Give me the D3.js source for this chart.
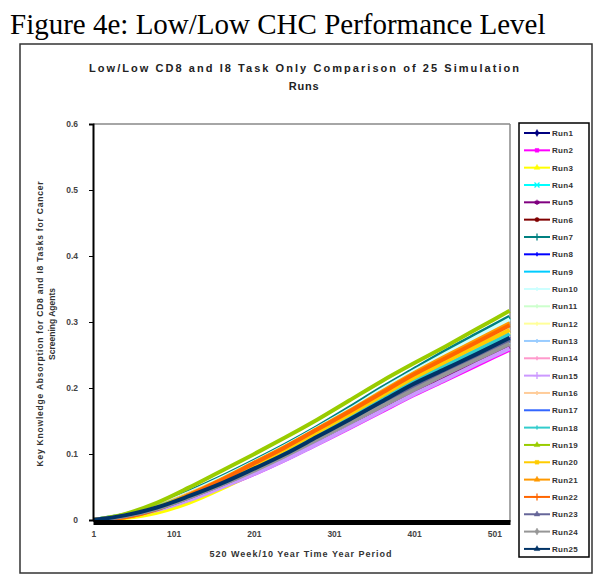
<!DOCTYPE html>
<html><head><meta charset="utf-8">
<script src="https://cdn.jsdelivr.net/npm/d3@7"></script>
<style>body{margin:0;background:#fff}svg{display:block}</style>
</head><body>
<script>
const weeks = [1,40,80,120,160,200,240,280,320,360,400,440,480,520];
const run1  = [0,.007,.019,.036,.056,.078,.101,.127,.153,.181,.208,.232,.255,.279];
const run2  = [0,.005,.015,.030,.049,.069,.091,.115,.139,.164,.189,.212,.235,.258];
const run3  = [0,.003,.011,.026,.047,.071,.097,.125,.154,.183,.211,.236,.260,.285];
const run4  = [0,.008,.022,.042,.064,.088,.113,.140,.168,.198,.227,.254,.280,.306];
const run5  = [0,.005,.016,.031,.050,.070,.092,.116,.141,.166,.191,.215,.239,.262];
const run6  = [0,.007,.019,.036,.055,.076,.099,.124,.150,.176,.202,.227,.250,.274];
const run7  = [0,.008,.023,.043,.065,.089,.114,.141,.170,.200,.228,.256,.282,.308];
const run8  = [0,.006,.018,.035,.055,.077,.100,.126,.152,.179,.205,.230,.253,.277];
const run9  = [0,.006,.018,.035,.054,.076,.099,.125,.151,.177,.204,.228,.252,.275];
const run10 = [0,.008,.022,.041,.063,.087,.112,.139,.167,.197,.225,.252,.278,.304];
const run11 = [0,.007,.020,.038,.058,.080,.104,.130,.157,.184,.211,.236,.259,.283];
const run12 = [0,.007,.020,.038,.059,.081,.105,.131,.158,.185,.212,.237,.261,.285];
const run13 = [0,.006,.017,.034,.053,.074,.097,.122,.147,.173,.199,.223,.246,.270];
const run14 = [0,.007,.020,.038,.059,.082,.106,.131,.157,.182,.208,.232,.256,.280];
const run15 = [0,.005,.015,.030,.049,.069,.091,.115,.140,.165,.190,.213,.237,.260];
const run16 = [0,.007,.021,.040,.061,.084,.108,.134,.161,.189,.216,.241,.266,.290];
const run17 = [0,.006,.018,.035,.055,.077,.100,.126,.152,.178,.205,.229,.253,.276];
const run18 = [0,.007,.020,.038,.058,.080,.104,.130,.156,.183,.210,.234,.258,.282];
const run19 = [0,.009,.026,.049,.074,.099,.125,.152,.181,.210,.237,.263,.290,.317];
const run20 = [0,.006,.019,.038,.060,.083,.107,.133,.160,.188,.215,.240,.264,.288];
const run21 = [0,.004,.017,.038,.061,.086,.111,.138,.165,.194,.222,.248,.273,.298];
const run22 = [0,.004,.016,.037,.060,.085,.110,.137,.164,.192,.220,.245,.270,.295];
const run23 = [0,.006,.017,.034,.053,.075,.098,.123,.149,.175,.201,.225,.248,.272];
const run24 = [0,.006,.017,.034,.053,.074,.097,.122,.147,.172,.197,.221,.244,.267];
const run25 = [0,.007,.019,.036,.055,.077,.100,.126,.152,.179,.206,.229,.252,.276];
const runNames = ["Run1","Run2","Run3","Run4","Run5","Run6","Run7","Run8","Run9","Run10","Run11","Run12","Run13","Run14","Run15","Run16","Run17","Run18","Run19","Run20","Run21","Run22","Run23","Run24","Run25"];
const runColors = ["#000080","#FF00FF","#FFFF00","#00FFFF","#800080","#800000","#008080","#0000FF","#00CCFF","#CCFFFF","#CCFFCC","#FFFF99","#99CCFF","#FF99CC","#CC99FF","#FFCC99","#3366FF","#33CCCC","#99CC00","#FFCC00","#FF9900","#FF6600","#666699","#969696","#003366"];
const runMarkers = ["diamond","square","triangle","cross","star","circle","plus","dash","none","dash","dash","dash","dash","dash","plus","dash","none","dash","triangle","square","triangle","plus","triangle","diamond","triangle"];
const yTicks = [0,0.1,0.2,0.3,0.4,0.5,0.6];
const yTickLabels = ["0","0.1","0.2","0.3","0.4","0.5","0.6"];
const xTicks = [1,101,201,301,401,501];
const allRuns = [run1,run2,run3,run4,run5,run6,run7,run8,run9,run10,run11,run12,run13,run14,run15,run16,run17,run18,run19,run20,run21,run22,run23,run24,run25];

const W=604,H=587;
const svg=d3.select("body").append("svg").attr("width",W).attr("height",H);
svg.append("rect").attr("width",W).attr("height",H).attr("fill","#fff");

svg.append("text").attr("x",10).attr("y",34)
  .attr("font-family","Liberation Serif, Times New Roman, serif").attr("font-size",29)
  .attr("fill","#000").text("Figure 4e: Low/Low CHC Performance Level");

svg.append("rect").attr("x",20).attr("y",44).attr("width",572).attr("height",529)
  .attr("fill","none").attr("stroke","#333").attr("stroke-width",1.5);

const ff="Liberation Sans, Arial, sans-serif";
svg.append("text").attr("x",304).attr("y",72).attr("text-anchor","middle")
  .attr("font-family",ff).attr("font-weight","bold").attr("font-size",11).attr("fill","#222")
  .attr("textLength",430).attr("lengthAdjust","spacing")
  .text("Low/Low  CD8 and I8 Task Only  Comparison of 25  Simulation");
svg.append("text").attr("x",304).attr("y",90).attr("text-anchor","middle")
  .attr("font-family",ff).attr("font-weight","bold").attr("font-size",11).attr("fill","#222")
  .attr("letter-spacing",0.8).text("Runs");

const x=d3.scaleLinear().domain([0.5,520.5]).range([93,510]);
const y=d3.scaleLinear().domain([0,0.6]).range([520,124]);

svg.append("line").attr("x1",93).attr("x2",510).attr("y1",124).attr("y2",124).attr("stroke","#888").attr("stroke-width",1.5);
svg.append("line").attr("x1",510).attr("x2",510).attr("y1",124).attr("y2",522).attr("stroke","#888").attr("stroke-width",1.5);

const line=d3.line().x((d,i)=>x(weeks[i])).y(d=>y(d)).curve(d3.curveMonotoneX);
svg.append("g").selectAll("path").data(allRuns).join("path")
  .attr("d",d=>line(d)).attr("fill","none")
  .attr("stroke",(d,i)=>runColors[i]).attr("stroke-width",4).attr("stroke-linejoin","round");

const yAxis=d3.axisLeft(y).tickValues(yTicks).tickFormat((d,i)=>yTickLabels[i]).tickSize(4).tickPadding(11);
const gy=svg.append("g").attr("transform","translate(93,0)").call(yAxis);
gy.select(".domain").attr("stroke","#000").attr("stroke-width",2);
gy.selectAll("text").attr("font-family",ff).attr("font-weight","bold").attr("font-size",8.5).attr("fill","#444");
gy.selectAll(".tick line").attr("stroke","#000");

const xAxis=d3.axisBottom(x).tickValues(xTicks).tickFormat(d3.format("d")).tickSize(0).tickPadding(9);
const gx=svg.append("g").attr("transform","translate(0,522)").call(xAxis);
gx.select(".domain").attr("stroke","#000").attr("stroke-width",5);
gx.selectAll("text").attr("font-family",ff).attr("font-weight","bold").attr("font-size",8.5).attr("fill","#444");

svg.append("text").attr("x",301).attr("y",557).attr("text-anchor","middle")
  .attr("font-family",ff).attr("font-weight","bold").attr("font-size",9).attr("fill","#333")
  .attr("letter-spacing",1).text("520 Week/10 Year Time Year Period");

const yt=svg.append("text").attr("transform","translate(43,324) rotate(-90)").attr("text-anchor","middle")
  .attr("font-family",ff).attr("font-weight","bold").attr("font-size",8.5).attr("fill","#333");
yt.append("tspan").attr("x",0).attr("dy",0).attr("textLength",285).attr("lengthAdjust","spacing")
  .text("Key Knowledge Absorption for CD8 and I8 Tasks for Cancer");
yt.append("tspan").attr("x",0).attr("dy",12).text("Screening Agents");

svg.append("rect").attr("x",519).attr("y",123).attr("width",70).attr("height",434)
  .attr("fill","#fff").attr("stroke","#000").attr("stroke-width",1.5);
const lg=svg.append("g").selectAll("g").data(runNames).join("g")
  .attr("transform",(d,i)=>`translate(0,${133+i*17.33})`);
lg.append("line").attr("x1",524).attr("x2",550).attr("y1",0).attr("y2",0)
  .attr("stroke",(d,i)=>runColors[i]).attr("stroke-width",2);
const symMap={diamond:d3.symbolDiamond,square:d3.symbolSquare,triangle:d3.symbolTriangle,cross:d3.symbolX,star:d3.symbolAsterisk,circle:d3.symbolCircle,plus:d3.symbolPlus};
lg.each(function(d,i){
  const m=runMarkers[i];
  const g=d3.select(this);
  if(m==="dash"){
    g.append("line").attr("x1",537).attr("x2",537).attr("y1",-2).attr("y2",2).attr("stroke",runColors[i]).attr("stroke-width",1.5);
  } else if(m!=="none"){
    const st=(m==="cross"||m==="star"||m==="plus");
    const s=d3.symbol().type(symMap[m]).size(st?18:14);
    g.append("path").attr("d",s()).attr("transform","translate(537,0)")
      .attr("fill",st?"none":runColors[i]).attr("stroke",runColors[i]).attr("stroke-width",st?1.3:0.5);
  }
});
lg.append("text").attr("x",552).attr("y",3).attr("font-family",ff).attr("font-weight","bold")
  .attr("font-size",8).attr("fill","#333").attr("letter-spacing",0.3).text(d=>d);
</script>
</body></html>
